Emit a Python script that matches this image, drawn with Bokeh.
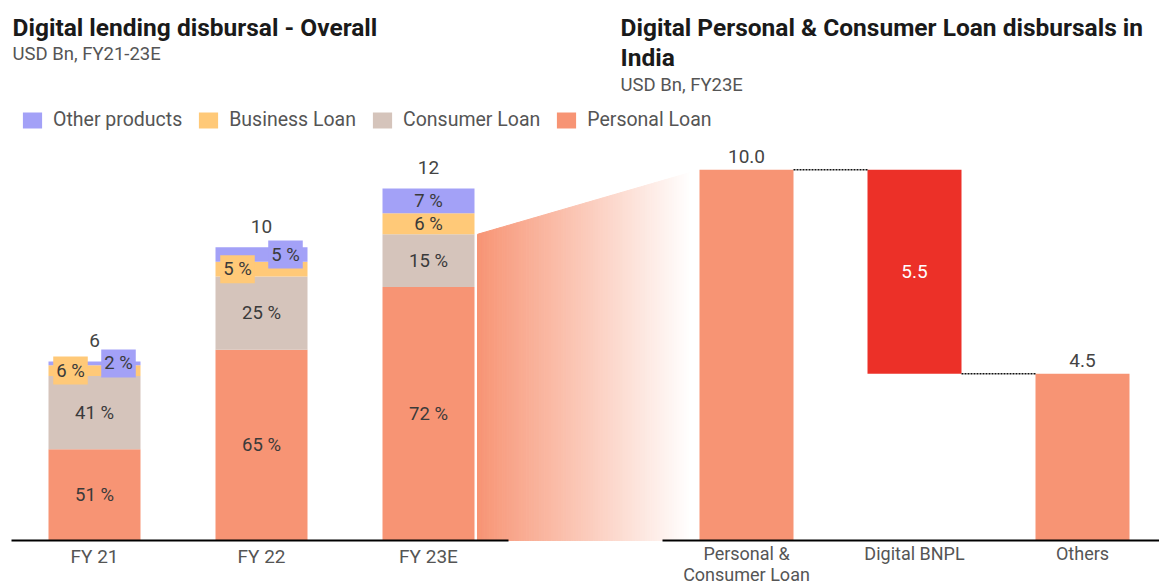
from bokeh.plotting import figure
from bokeh.models import Range1d, ColumnDataSource, Legend, LegendItem
from bokeh.core.properties import value
from bokeh.embed import file_html
from bokeh.resources import INLINE

# ---------------- data ----------------
years = ["FY 21", "FY 22", "FY 23E"]
totals = [6.1, 10.0, 12.0]
total_labels = ["6", "10", "12"]
personal_pct = [51, 65, 72]
consumer_pct = [41, 25, 15]
business_pct = [6, 5, 6]
other_pct = [2, 5, 7]

wf_cats = ["Personal &\nConsumer Loan", "Digital BNPL", "Others"]
wf_values = [10.0, -5.5, 4.5]
wf_kinds = ["total", "delta", "total"]
wf_labels = ["10.0", "5.5", "4.5"]

# ---------------- layout ----------------
W, H = 1159, 587
FONT = value("Roboto")
C_PERS, C_CONS, C_BUS, C_OTH, C_RED = "#F79474", "#D5C4BB", "#FFC978", "#A3A1F7", "#EC3028"
BASE = 540          # page y of baseline
L_PPU = 29.33       # px per unit, left panel
R_PPU = 37.07       # px per unit, right panel
L_X0, L_STEP, L_W = 94, 167, 92
R_X0, R_STEP, R_W = 746, 168, 94

def yl(page_y):
    return (BASE - page_y) / L_PPU

p = figure(width=W, height=H, output_backend="svg", toolbar_location=None,
           x_range=Range1d(0, W),
           y_range=Range1d(-(H - BASE) / L_PPU, BASE / L_PPU),
           min_border=0)
p.extra_y_ranges = {"r": Range1d(-(H - BASE) / R_PPU, BASE / R_PPU)}
p.axis.visible = False
p.grid.visible = False
p.outline_line_color = None

# ---------------- left stacked bars ----------------
lx = [L_X0 + i * L_STEP for i in range(len(years))]
pers = [t * v / 100 for t, v in zip(totals, personal_pct)]
cons = [t * v / 100 for t, v in zip(totals, consumer_pct)]
bus = [t * v / 100 for t, v in zip(totals, business_pct)]
oth = [t * v / 100 for t, v in zip(totals, other_pct)]
src = ColumnDataSource(dict(x=lx, pers=pers, cons=cons, bus=bus, oth=oth))
rs = p.vbar_stack(["pers", "cons", "bus", "oth"], x="x", width=L_W, source=src,
                  color=[C_PERS, C_CONS, C_BUS, C_OTH], line_color=None)

# gradient connector from FY23E (personal+consumer) to first waterfall bar
xa = lx[-1] + L_W / 2 + 3
xb = R_X0 - R_W / 2
ya = pers[-1] + cons[-1]
yb = wf_values[0] * R_PPU / L_PPU
N = 90
xs, ys, cols = [], [], []
def blend(t):
    r0, g0, b0 = 247, 148, 116
    return "#%02x%02x%02x" % (round(r0 + (255 - r0) * t), round(g0 + (255 - g0) * t), round(b0 + (255 - b0) * t))
for i in range(N):
    t0, t1 = i / N, (i + 1) / N
    x0, x1 = xa + (xb - xa) * t0, xa + (xb - xa) * t1
    xs.append([x0, x1, x1, x0])
    ys.append([0, 0, ya + (yb - ya) * t1, ya + (yb - ya) * t0])
    tm = (t0 + t1) / 2
    cols.append(blend(min(1.0, tm * 1.04)))
p.patches(xs, ys, fill_color=cols, line_color=cols, line_width=1)

# percentage labels
TXT = "#3a3a3a"
lab_x, lab_y, lab_t = [], [], []
box_x, box_y, box_t, box_c = [], [], [], []
for i in range(len(years)):
    segs = [(pers[i], personal_pct[i], C_PERS, 0), (cons[i], consumer_pct[i], C_CONS, 0),
            (bus[i], business_pct[i], C_BUS, -1), (oth[i], other_pct[i], C_OTH, 1)]
    bottom = 0
    for h, pct, col, side in segs:
        cy = bottom + h / 2
        if h * L_PPU < 18 and side != 0:
            box_x.append(lx[i] + side * 24)
            box_y.append(cy)
            box_t.append(f"{pct} %")
            box_c.append(col)
        else:
            lab_x.append(lx[i]); lab_y.append(cy); lab_t.append(f"{pct} %")
        bottom += h
p.text(lab_x, lab_y, text=lab_t, text_font=FONT, text_font_size="18.5px", text_color=TXT,
       text_align="center", text_baseline="middle")
p.text(box_x, box_y, text=box_t, text_font=FONT, text_font_size="18.5px", text_color=TXT,
       text_align="center", text_baseline="middle", background_fill_color=box_c,
       padding=3)

# totals
p.text(lx, [t + 21 / L_PPU for t in totals], text=total_labels, text_font=FONT,
       text_font_size="19px", text_color="#444", text_align="center", text_baseline="middle")
# category labels
p.text(lx, [yl(556)] * len(lx), text=years, text_font=FONT, text_font_size="19px",
       text_color="#555", text_align="center", text_baseline="middle")
# baseline
p.segment(x0=[lx[0] - 83], y0=[0], x1=[lx[-1] + 80], y1=[0], line_color="black", line_width=2)

# ---------------- right waterfall ----------------
rx = [R_X0 + i * R_STEP for i in range(len(wf_cats))]
tops, bots, level = [], [], 0
for v, k in zip(wf_values, wf_kinds):
    if k == "total":
        bots.append(0); tops.append(v); level = v
    else:
        bots.append(level + v); tops.append(level); level = level + v
wcol = [C_PERS if k == "total" else C_RED for k in wf_kinds]
p.vbar(x=rx, bottom=bots, top=tops, width=R_W, color=wcol, line_color=None, y_range_name="r")
# connectors
cx0, cx1, cy = [], [], []
for i in range(len(wf_values) - 1):
    lev = tops[i] if wf_kinds[i] == "total" else bots[i]
    cx0.append(rx[i] + R_W / 2); cx1.append(rx[i + 1] - R_W / 2); cy.append(lev)
p.segment(x0=cx0, y0=cy, x1=cx1, y1=cy, line_color="#111", line_width=1.5,
          line_dash="2 1", y_range_name="r")
# value labels
vx, vy, vt, vc = [], [], [], []
for i, k in enumerate(wf_kinds):
    if k == "total":
        vx.append(rx[i]); vy.append(tops[i] + 13 / R_PPU); vt.append(wf_labels[i]); vc.append("#444")
    else:
        vx.append(rx[i]); vy.append((tops[i] + bots[i]) / 2); vt.append(wf_labels[i]); vc.append("#ffffff")
p.text(vx, vy, text=vt, text_color=vc, text_font=FONT, text_font_size="19px",
       text_align="center", text_baseline="middle", y_range_name="r")
p.text(rx, [-(542 - BASE) / R_PPU] * len(rx), text=wf_cats, text_font=FONT,
       text_font_size="18px", text_color="#555", text_align="center", text_baseline="top",
       text_line_height=1.0, y_range_name="r")
p.segment(x0=[rx[0] - 84], y0=[0], x1=[W], y1=[0], line_color="black", line_width=2,
          y_range_name="r")

# ---------------- titles ----------------
p.text([12], [yl(27)], text=["Digital lending disbursal - Overall"], text_font=FONT,
       text_font_size="24.5px", text_font_style="bold", text_color="#1a1a1a", text_baseline="middle")
p.text([12], [yl(53)], text=["USD Bn, FY21-23E"], text_font=FONT,
       text_font_size="18.5px", text_color="#555", text_baseline="middle")
p.text([620, 620], [yl(27), yl(57)], text=["Digital Personal & Consumer Loan disbursals in", "India"],
       text_font=FONT, text_font_size="24.5px", text_font_style="bold", text_color="#1a1a1a",
       text_baseline="middle")
p.text([620], [yl(84)], text=["USD Bn, FY23E"], text_font=FONT,
       text_font_size="18.5px", text_color="#555", text_baseline="middle")

# ---------------- legend ----------------
names = ["Personal Loan", "Consumer Loan", "Business Loan", "Other products"]
items = [LegendItem(label=n, renderers=[r]) for n, r in zip(names, rs)][::-1]
legend = Legend(items=items, orientation="horizontal", location=(20, H - 131),
                glyph_width=24, glyph_height=20, label_standoff=9, spacing=14,
                padding=0, margin=0, border_line_color=None, background_fill_alpha=0,
                label_text_font="Roboto", label_text_font_size="19.5px", label_text_color="#555",
                label_height=20)
p.add_layout(legend)

open("out.html", "w").write(file_html(p, INLINE))
